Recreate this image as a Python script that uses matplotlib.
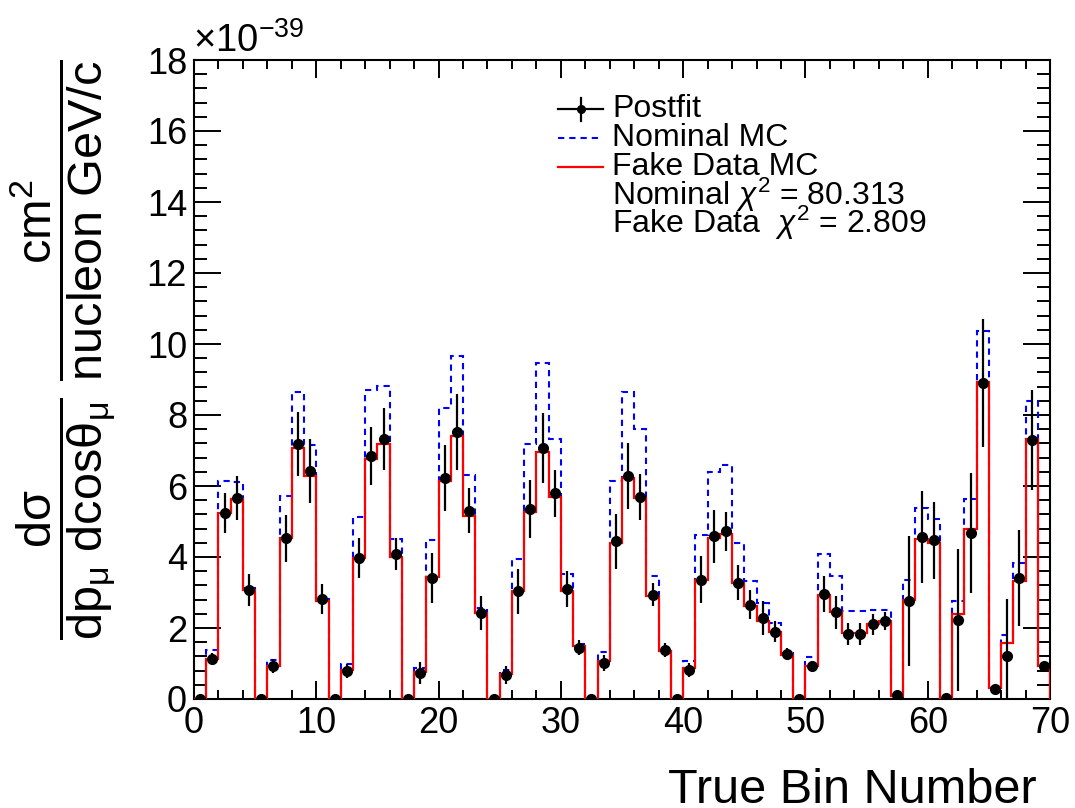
import numpy as np
import matplotlib
matplotlib.use("Agg")
import matplotlib.pyplot as plt
from matplotlib.lines import Line2D
from matplotlib.ticker import MultipleLocator

plt.rcParams["font.family"] = ["Liberation Sans", "DejaVu Sans"]
plt.rcParams["mathtext.fontset"] = "custom"
plt.rcParams["mathtext.rm"] = "Liberation Sans"
plt.rcParams["mathtext.it"] = "Liberation Sans:italic"
plt.rcParams["mathtext.bf"] = "Liberation Sans:bold"

# Cross section per true bin, in units of 1e-39 cm^2 / nucleon GeV/c
fake_data_mc = [
    0.00, 1.13, 5.24, 5.64, 3.08, 0.00, 0.94, 4.53, 7.07, 6.29,
    2.75, 0.00, 0.83, 3.97, 6.77, 7.18, 4.00, 0.00, 0.75, 3.43,
    6.13, 7.42, 5.16, 2.42, 0.00, 0.70, 3.03, 5.28, 6.95, 5.69,
    3.03, 1.48, 0.00, 1.08, 4.39, 6.22, 5.66, 2.89, 1.34, 0.00,
    0.87, 3.36, 4.53, 4.66, 3.27, 2.63, 2.19, 1.88, 1.25, 0.00,
    0.94, 2.94, 2.44, 1.86, 1.86, 2.12, 2.21, 0.09, 2.78, 4.52,
    4.39, 0.03, 2.39, 4.80, 8.93, 0.31, 1.58, 3.33, 7.32, 0.93,
]
nominal_mc = [
    0.00, 1.39, 6.13, 6.10, 3.12, 0.00, 1.11, 5.71, 8.66, 7.16,
    2.81, 0.00, 0.99, 5.14, 8.71, 8.83, 4.50, 0.00, 0.87, 4.47,
    8.20, 9.67, 6.30, 2.56, 0.00, 0.83, 3.94, 7.18, 9.46, 7.32,
    3.53, 1.55, 0.00, 1.32, 6.15, 8.66, 7.60, 3.47, 1.36, 0.00,
    1.06, 4.61, 6.39, 6.58, 4.39, 3.33, 2.70, 2.14, 1.29, 0.00,
    1.17, 4.09, 3.47, 2.47, 2.47, 2.51, 2.51, 0.09, 3.34, 5.38,
    5.08, 0.03, 2.77, 5.64, 10.38, 0.31, 1.79, 3.83, 8.40, 0.93,
]
postfit = [
    0.00, 1.14, 5.24, 5.67, 3.08, 0.00, 0.92, 4.53, 7.19, 6.41,
    2.82, 0.00, 0.78, 3.97, 6.85, 7.32, 4.09, 0.00, 0.73, 3.41,
    6.23, 7.52, 5.30, 2.42, 0.00, 0.68, 3.03, 5.35, 7.07, 5.80,
    3.10, 1.45, 0.00, 1.02, 4.44, 6.27, 5.70, 2.94, 1.39, 0.00,
    0.82, 3.36, 4.58, 4.72, 3.28, 2.66, 2.28, 1.90, 1.27, 0.00,
    0.92, 2.96, 2.44, 1.83, 1.83, 2.10, 2.20, 0.10, 2.75, 4.56,
    4.47, 0.03, 2.23, 4.68, 8.90, 0.28, 1.22, 3.41, 7.30, 0.94,
]
postfit_err = [
    0.02, 0.15, 0.55, 0.62, 0.45, 0.02, 0.20, 0.66, 0.90, 0.90,
    0.42, 0.02, 0.20, 0.57, 0.82, 0.88, 0.45, 0.02, 0.30, 0.70,
    0.93, 1.07, 0.63, 0.48, 0.02, 0.25, 0.63, 0.82, 0.99, 0.66,
    0.50, 0.20, 0.02, 0.22, 0.77, 0.93, 0.65, 0.33, 0.20, 0.02,
    0.20, 0.66, 0.74, 0.56, 0.50, 0.42, 0.47, 0.30, 0.17, 0.02,
    0.15, 0.50, 0.46, 0.30, 0.30, 0.30, 0.25, 0.05, 1.83, 1.30,
    1.08, 0.02, 2.00, 1.70, 1.80, 0.05, 1.60, 1.34, 1.40, 0.05,
]
nominal_chi2 = 80.313
fake_chi2 = 2.809

W, H = 1075, 808
n_bins = len(fake_data_mc)
edges = np.arange(n_bins + 1)
centers = edges[:-1] + 0.5

BLUE_DASH = (0, (3.0, 2.4))

fig = plt.figure(figsize=(W / 100, H / 100), dpi=100)
ax = fig.add_axes([194 / W, 1 - 699 / H, 856 / W, 639 / H])

ax.stairs(nominal_mc, edges, color="#0000ff", lw=1.5, ls=BLUE_DASH,
          baseline=0, zorder=2)
ax.stairs(fake_data_mc, edges, color="#ff0000", lw=1.6, baseline=0, zorder=3)
ax.errorbar(centers, postfit, yerr=postfit_err, fmt="o", color="black",
            ms=7, elinewidth=1.6, capsize=0, zorder=4)

ax.set_xlim(0, 70)
ax.set_ylim(0, 18)
ax.xaxis.set_major_locator(MultipleLocator(10))
ax.xaxis.set_minor_locator(MultipleLocator(2))
ax.yaxis.set_major_locator(MultipleLocator(2))
ax.yaxis.set_minor_locator(MultipleLocator(0.4))
ax.tick_params(which="both", direction="in", top=True, right=True,
               width=1.4, labelsize=26)
ax.tick_params(axis="x", which="major", length=13, pad=5)
ax.tick_params(axis="x", which="minor", length=6.5)
ax.tick_params(axis="y", which="major", length=19.5, pad=5)
ax.tick_params(axis="y", which="minor", length=9.7)
for sp in ax.spines.values():
    sp.set_linewidth(1.5)

# axis multiplier, axis titles
fig.text(193 / W, 1 - 52 / H, r"$\mathregular{\times10^{-39}}$",
         fontsize=27.5, ha="left", va="baseline")

fig.text(1037 / W, 1 - 803 / H, "True Bin Number", fontsize=35,
         ha="right", va="baseline")

ylab = (r"$\dfrac{\mathrm{d}\mathrm{\sigma}}"
        r"{\mathrm{dp}_{\mathrm{\mu}}\ \mathrm{dcos}\mathrm{\theta}_{\mathrm{\mu}}}"
        r"\ \dfrac{\mathrm{cm}^{2}}{\mathrm{nucleon\ GeV/c}}$")
fig.text(63 / W, 1 - 350 / H, ylab, fontsize=35, rotation=90,
         ha="center", va="center")

# legend, drawn row by row
leg_x0, leg_x1, txt_x = 558, 603, 612
rows = [
    ("Postfit", 117),
    ("Nominal MC", 146),
    ("Fake Data MC", 175),
    (rf"Nominal $\chi^{{2}}$ = {nominal_chi2:.3f}", 204.5),
    (rf"Fake Data  $\chi^{{2}}$ = {fake_chi2:.3f}", 232.5),
]
for label, base in rows:
    fig.text(txt_x / W, 1 - base / H, label, fontsize=23,
             ha="left", va="baseline")

def _row_mid(base):
    return 1 - (base - 8) / H

hx = [leg_x0 / W, leg_x1 / W]
ym = _row_mid(rows[0][1])
fig.add_artist(Line2D(hx, [ym, ym], color="black", lw=1.6))
fig.add_artist(Line2D([(leg_x0 + leg_x1) / 2 / W] * 2,
                      [ym - 11.5 / H, ym + 11.5 / H], color="black", lw=1.6))
fig.add_artist(Line2D([(leg_x0 + leg_x1) / 2 / W], [ym], color="black",
                      marker="o", ms=5.5, ls="none"))
ym = _row_mid(rows[1][1])
fig.add_artist(Line2D(hx, [ym, ym], color="#0000ff", lw=1.5, ls=BLUE_DASH))
ym = _row_mid(rows[2][1])
fig.add_artist(Line2D(hx, [ym, ym], color="#ff0000", lw=1.6))

fig.savefig("out.png", dpi=100)
